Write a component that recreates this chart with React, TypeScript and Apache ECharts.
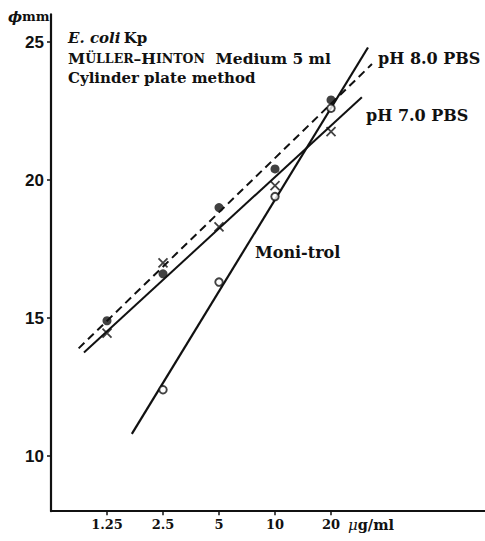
import React, { useEffect, useRef } from 'react';
import * as echarts from 'echarts';

// Concentrations (µg/ml) and inhibition zone diameters (mm)
const concentrations = [1.25, 2.5, 5, 10, 20];
const xTickLabels = ['1.25', '2.5', '5', '10', '20'];
const yTicks = [10, 15, 20, 25];
const ph80Values = [14.9, 16.6, 19.0, 20.4, 22.9];
const ph70Values = [14.45, 17.0, 18.3, 19.8, 21.75];
const monitrolConc = [2.5, 5, 10, 20];
const monitrolValues = [12.4, 16.3, 19.4, 22.6];
// regression lines (start / end points)
const ph80Fit = [[0.88, 13.9], [33.2, 24.2]];
const ph70Fit = [[0.94, 13.75], [29.3, 23.0]];
const monitrolFit = [[1.7, 10.8], [31.6, 24.8]];

const SERIF = '"DejaVu Serif", "Liberation Serif", serif';

export default function App() {
  const ref = useRef<HTMLDivElement>(null);
  useEffect(() => {
    if (!ref.current) return;
    const chart = echarts.init(ref.current, null, { renderer: 'svg' });
    const black = '#111';
    chart.setOption({
      animation: false,
      backgroundColor: '#fff',
      grid: { left: 51, right: 0, top: 14.4, bottom: 29.8 },
      xAxis: {
        type: 'log',
        logBase: 2,
        min: 0.625,
        max: 134.5,
        axisLine: { show: true, lineStyle: { color: black, width: 1.8 } },
        axisTick: { show: true, customValues: concentrations, length: 4, lineStyle: { color: black, width: 1.5 } },
        axisLabel: {
          customValues: concentrations,
          margin: 7,
          color: black,
          fontFamily: SERIF,
          fontWeight: 'bold',
          fontSize: 13,
          formatter: (v: number) => xTickLabels[concentrations.indexOf(v)] ?? '',
        },
        splitLine: { show: false },
        minorTick: { show: false },
      },
      yAxis: {
        type: 'value',
        min: 8,
        max: 26,
        axisLine: { show: true, lineStyle: { color: black, width: 2.2 } },
        axisTick: { show: true, customValues: yTicks, length: 4, lineStyle: { color: black, width: 1.5 } },
        axisLabel: {
          customValues: yTicks,
          margin: 7,
          color: black,
          fontFamily: '"Liberation Sans Narrow", "Liberation Sans", sans-serif',
          fontWeight: 'bold',
          fontSize: 17,
        },
        splitLine: { show: false },
      },
      series: [
        {
          name: 'pH 8.0 fit', type: 'line', data: ph80Fit, symbol: 'none',
          lineStyle: { color: black, width: 2, type: [8, 5] }, z: 2,
        },
        {
          name: 'pH 7.0 fit', type: 'line', data: ph70Fit, symbol: 'none',
          lineStyle: { color: black, width: 2 }, z: 2,
        },
        {
          name: 'Moni-trol fit', type: 'line', data: monitrolFit, symbol: 'none',
          lineStyle: { color: black, width: 2.2 }, z: 2,
        },
        {
          name: 'pH 8.0 PBS', type: 'scatter',
          data: concentrations.map((c, i) => [c, ph80Values[i]]),
          symbol: 'circle', symbolSize: 9,
          itemStyle: { color: black }, z: 3,
        },
        {
          name: 'pH 7.0 PBS', type: 'scatter',
          data: concentrations.map((c, i) => [c, ph70Values[i]]),
          symbol: 'path://M0,0L10,10M10,0L0,10', symbolSize: 9,
          itemStyle: { color: 'none', borderColor: black, borderWidth: 1.8 }, z: 3,
        },
        {
          name: 'Moni-trol', type: 'scatter',
          data: monitrolConc.map((c, i) => [c, monitrolValues[i]]),
          symbol: 'circle', symbolSize: 7.5,
          itemStyle: { color: '#fff', borderColor: black, borderWidth: 1.9 }, z: 3,
        },
      ],
      graphic: [
        {
          type: 'text', left: 8, top: 9,
          style: {
            text: '{i|ϕ}{b|mm}',
            rich: {
              i: { fontFamily: SERIF, fontStyle: 'italic', fontWeight: 'bold', fontSize: 15, fill: black },
              b: { fontFamily: SERIF, fontWeight: 'bold', fontSize: 13, fill: black },
            },
          },
        },
        {
          type: 'text', left: 68, top: 30,
          style: {
            text: '{i|E. coli} {b|Kp}',
            rich: {
              i: { fontFamily: SERIF, fontStyle: 'italic', fontWeight: 'bold', fontSize: 15, fill: black },
              b: { fontFamily: SERIF, fontWeight: 'bold', fontSize: 15, fill: black },
            },
          },
        },
        {
          type: 'text', left: 68, top: 50,
          style: {
            text: '{b|M}{s|ÜLLER}{b|–H}{s|INTON}{b|  Medium 5 ml}',
            rich: {
              b: { fontFamily: SERIF, fontWeight: 'bold', fontSize: 15.5, fill: black, height: 18, verticalAlign: 'bottom' },
              s: { fontFamily: SERIF, fontWeight: 'bold', fontSize: 12.5, fill: black, height: 18, verticalAlign: 'bottom' },
            },
          },
        },
        {
          type: 'text', left: 68, top: 70,
          style: { text: 'Cylinder plate method', fontFamily: SERIF, fontWeight: 'bold', fontSize: 15, fill: black },
        },
        {
          type: 'text', left: 378, top: 50,
          style: { text: 'pH 8.0 PBS', fontFamily: SERIF, fontWeight: 'bold', fontSize: 16, fill: black },
        },
        {
          type: 'text', left: 366, top: 107,
          style: { text: 'pH 7.0 PBS', fontFamily: SERIF, fontWeight: 'bold', fontSize: 16, fill: black },
        },
        {
          type: 'text', left: 255, top: 244,
          style: { text: 'Moni-trol', fontFamily: SERIF, fontWeight: 'bold', fontSize: 16, fill: black },
        },
        {
          type: 'text', left: 348, top: 517,
          style: {
            text: '{i|μ}{b|g/ml}',
            rich: {
              i: { fontFamily: SERIF, fontStyle: 'italic', fontSize: 15, fill: black },
              b: { fontFamily: SERIF, fontWeight: 'bold', fontSize: 14.5, fill: black },
            },
          },
        },
      ],
    });
    return () => chart.dispose();
  }, []);
  return (
    <div
      ref={ref}
      style={{ position: 'absolute', left: 0, top: 0, width: 485, height: 541 }}
    />
  );
}
